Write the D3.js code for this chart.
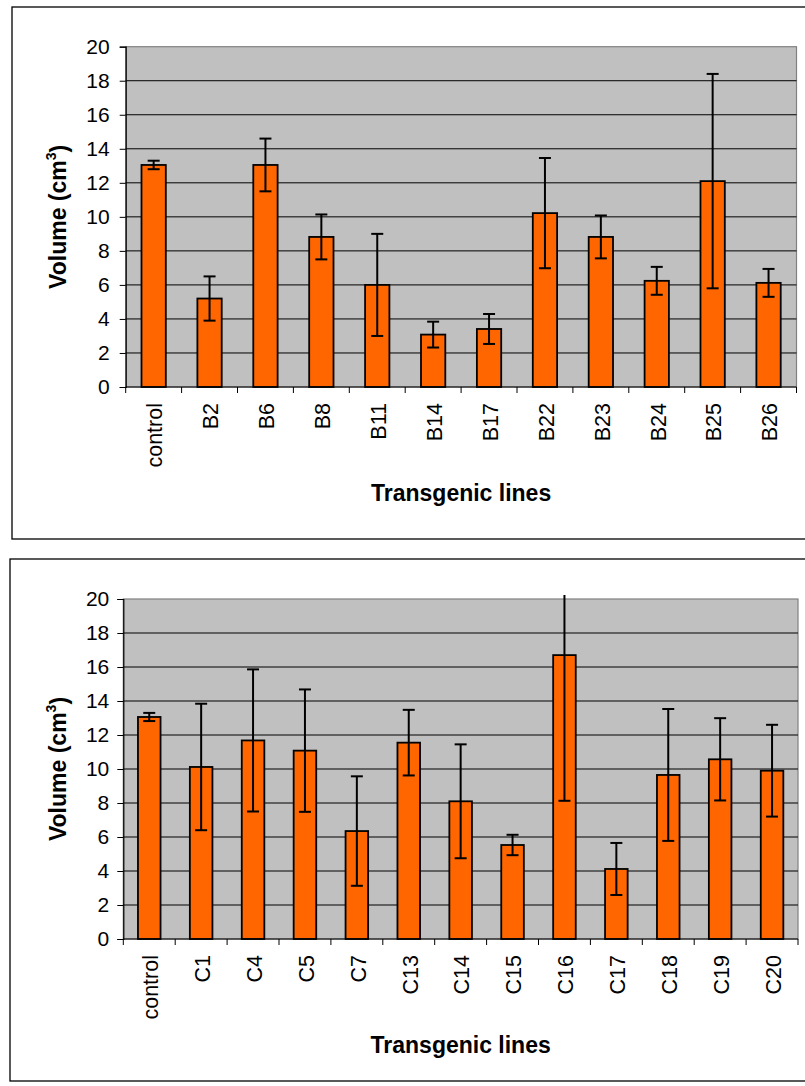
<!DOCTYPE html>
<html>
<head>
<meta charset="utf-8">
<script src="https://cdn.jsdelivr.net/npm/d3@7"></script>
<style>
  html, body { margin: 0; padding: 0; background: #fff; }
  svg { display: block; font-family: "Liberation Sans", Arial, sans-serif; }
</style>
</head>
<body>
<svg id="chart" width="805" height="1086"></svg>
<script>
// ---- Data ----
const categoriesB = ["control", "B2", "B6", "B8", "B11", "B14", "B17", "B22", "B23", "B24", "B25", "B26"];
const valuesB     = [13.05, 5.2, 13.05, 8.82, 6.0, 3.08, 3.41, 10.22, 8.82, 6.24, 12.1, 6.12];
const errorsB     = [0.25, 1.3, 1.55, 1.32, 3.0, 0.76, 0.88, 3.24, 1.26, 0.82, 6.3, 0.82];

const categoriesC = ["control", "C1", "C4", "C5", "C7", "C13", "C14", "C15", "C16", "C17", "C18", "C19", "C20"];
const valuesC     = [13.06, 10.12, 11.68, 11.08, 6.35, 11.55, 8.1, 5.53, 16.7, 4.12, 9.65, 10.57, 9.9];
const errorsC     = [0.24, 3.72, 4.18, 3.6, 3.22, 1.93, 3.35, 0.6, 8.57, 1.53, 3.88, 2.42, 2.7];

const yTicks = [0, 2, 4, 6, 8, 10, 12, 14, 16, 18, 20];
const yTitle = "Volume (cm";
const yTitleSup = "3";
const yTitleEnd = ")";
const xTitle = "Transgenic lines";

const svg = d3.select("#chart");

function drawPanel(cfg) {
  const { frame, plot, cats, vals, errs, tickPad } = cfg;
  svg.append("rect")
    .attr("x", frame.x).attr("y", frame.y)
    .attr("width", frame.w).attr("height", frame.h)
    .attr("fill", "#fff").attr("stroke", "#000").attr("stroke-width", 1.3);

  const g = svg.append("g");
  const x = d3.scaleBand().domain(cats).range([plot.l, plot.r]).paddingInner(0).paddingOuter(0);
  const y = d3.scaleLinear().domain([0, 20]).range([plot.b, plot.t]);

  g.append("rect")
    .attr("x", plot.l).attr("y", plot.t)
    .attr("width", plot.r - plot.l).attr("height", plot.b - plot.t)
    .attr("fill", "#C0C0C0").attr("stroke", "#808080").attr("stroke-width", 1.2);

  g.selectAll("line.grid").data(yTicks.filter(v => v > 0 && v < 20)).enter()
    .append("line").attr("class", "grid")
    .attr("x1", plot.l).attr("x2", plot.r)
    .attr("y1", d => y(d)).attr("y2", d => y(d))
    .attr("stroke", "#000").attr("stroke-width", 1);

  const bw = x.bandwidth() * 0.435;
  g.selectAll("rect.bar").data(cats).enter()
    .append("rect").attr("class", "bar")
    .attr("x", (d) => x(d) + (x.bandwidth() - bw) / 2)
    .attr("y", (d, i) => y(vals[i]))
    .attr("width", bw)
    .attr("height", (d, i) => y(0) - y(vals[i]))
    .attr("fill", "#FF6600").attr("stroke", "#000").attr("stroke-width", 1.8);

  const capW = 12;
  const topLimit = y(20) - 4;
  cats.forEach((c, i) => {
    const cx = x(c) + x.bandwidth() / 2;
    const hi = vals[i] + errs[i], lo = vals[i] - errs[i];
    const yHi = Math.max(y(hi), topLimit);
    const yLo = y(lo);
    g.append("line").attr("x1", cx).attr("x2", cx).attr("y1", yHi).attr("y2", yLo)
      .attr("stroke", "#000").attr("stroke-width", 2);
    if (y(hi) >= topLimit) {
      g.append("line").attr("x1", cx - capW / 2).attr("x2", cx + capW / 2)
        .attr("y1", yHi).attr("y2", yHi).attr("stroke", "#000").attr("stroke-width", 2);
    }
    g.append("line").attr("x1", cx - capW / 2).attr("x2", cx + capW / 2)
      .attr("y1", yLo).attr("y2", yLo).attr("stroke", "#000").attr("stroke-width", 2);
  });

  const yAxis = d3.axisLeft(y).tickValues(yTicks).tickSize(6).tickPadding(tickPad).tickFormat(d3.format("d"));
  const ya = g.append("g").attr("transform", `translate(${plot.l},0)`).call(yAxis);
  ya.select(".domain").attr("stroke", "#000").attr("stroke-width", 1.2);
  ya.selectAll(".tick line").attr("stroke", "#000").attr("stroke-width", 1);
  ya.selectAll(".tick text").attr("font-size", 21).attr("fill", "#000")
    .attr("font-family", "'Liberation Sans', Arial, sans-serif");

  g.append("line").attr("x1", plot.l).attr("x2", plot.r).attr("y1", y(0)).attr("y2", y(0))
    .attr("stroke", "#000").attr("stroke-width", 1.2);
  const bounds = cats.map(c => x(c)).concat([x(cats[cats.length - 1]) + x.bandwidth()]);
  g.selectAll("line.xtick").data(bounds).enter().append("line").attr("class", "xtick")
    .attr("x1", d => d).attr("x2", d => d).attr("y1", y(0)).attr("y2", y(0) + 6)
    .attr("stroke", "#000").attr("stroke-width", 1);

  g.selectAll("text.cat").data(cats).enter().append("text").attr("class", "cat")
    .attr("transform", d => `translate(${x(d) + x.bandwidth() / 2 + 1},${y(0) + 16}) rotate(-90)`)
    .attr("text-anchor", "end").attr("dy", "0.36em")
    .attr("font-size", 21.5).attr("fill", "#000")
    .text(d => d);

  g.append("text")
    .attr("x", (plot.l + plot.r) / 2).attr("y", cfg.xTitleY)
    .attr("text-anchor", "middle").attr("font-size", 23).attr("font-weight", "bold")
    .text(xTitle);

  const yt = g.append("text")
    .attr("transform", `translate(${cfg.yTitleX},${(plot.t + plot.b) / 2}) rotate(-90)`)
    .attr("text-anchor", "middle").attr("font-size", 23).attr("font-weight", "bold");
  yt.append("tspan").text(yTitle);
  yt.append("tspan").attr("font-size", 14).attr("dy", "-0.7em").text(yTitleSup);
  yt.append("tspan").attr("dy", "0.45em").text(yTitleEnd);
}

drawPanel({
  frame: { x: 12, y: 7, w: 810, h: 532 },
  plot: { l: 125.7, r: 796.5, t: 46.7, b: 387 },
  cats: categoriesB, vals: valuesB, errs: errorsB,
  tickPad: 10, xTitleY: 501, yTitleX: 66
});

drawPanel({
  frame: { x: 10, y: 559, w: 812, h: 522 },
  plot: { l: 123.3, r: 798, t: 599, b: 939 },
  cats: categoriesC, vals: valuesC, errs: errorsC,
  tickPad: 8, xTitleY: 1053, yTitleX: 66
});
</script>
</body>
</html>
